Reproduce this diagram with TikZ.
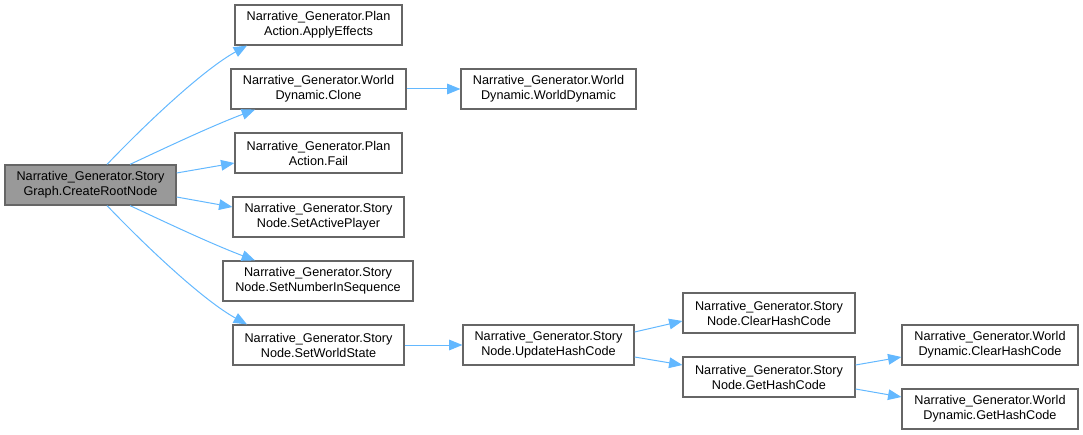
\documentclass[tikz,border=0pt]{standalone}
\usepackage{fontspec}
\setmainfont{Liberation Sans}
\usetikzlibrary{arrows.meta}
\definecolor{edgeblue}{HTML}{63B8FF}
\definecolor{boxborder}{HTML}{666666}
\definecolor{rootfill}{HTML}{999999}
\tikzset{
  fnbox/.style={draw=boxborder, line width=0.9pt, fill=white, inner sep=0pt,
    minimum height=30pt, align=center, font=\fontsize{9.5}{11.25}\selectfont},
  rootbox/.style={fnbox, fill=rootfill},
  call/.style={draw=edgeblue, line width=0.75pt, -{Triangle[length=10pt,width=8pt]}}
}
\begin{document}
\begin{tikzpicture}[x=0.75pt,y=-0.75pt]
\useasboundingbox (0,0) rectangle (1083,435);
\node[rootbox, minimum width=128.25pt] (root) at (90.5,185) {Narrative\_Generator.Story\\Graph.CreateRootNode};
\node[fnbox, minimum width=125.25pt] (ae) at (318.5,25) {Narrative\_Generator.Plan\\Action.ApplyEffects};
\node[fnbox, minimum width=131.25pt] (clone) at (318.5,89) {Narrative\_Generator.World\\Dynamic.Clone};
\node[fnbox, minimum width=125.25pt] (fail) at (318.5,153) {Narrative\_Generator.Plan\\Action.Fail};
\node[fnbox, minimum width=128.25pt] (sap) at (318.5,217) {Narrative\_Generator.Story\\Node.SetActivePlayer};
\node[fnbox, minimum width=142.5pt] (snis) at (318,281) {Narrative\_Generator.Story\\Node.SetNumberInSequence};
\node[fnbox, minimum width=128.25pt] (sws) at (318.5,345) {Narrative\_Generator.Story\\Node.SetWorldState};
\node[fnbox, minimum width=131.25pt] (wd) at (548.5,89) {Narrative\_Generator.World\\Dynamic.WorldDynamic};
\node[fnbox, minimum width=128.25pt] (uhc) at (548.5,345) {Narrative\_Generator.Story\\Node.UpdateHashCode};
\node[fnbox, minimum width=129pt] (snclear) at (769,313) {Narrative\_Generator.Story\\Node.ClearHashCode};
\node[fnbox, minimum width=129pt] (snget) at (769,377) {Narrative\_Generator.Story\\Node.GetHashCode};
\node[fnbox, minimum width=132pt] (wdclear) at (990,345) {Narrative\_Generator.World\\Dynamic.ClearHashCode};
\node[fnbox, minimum width=132pt] (wdget) at (990,409) {Narrative\_Generator.World\\Dynamic.GetHashCode};

\draw[call] ([xshift=12.4pt]root.north) .. controls +(43,-45) and +(-42,23) .. ([xshift=-53.6pt]ae.south);
\draw[call] ([xshift=29.6pt]root.north) .. controls +(30,-14) and +(-45,17) .. ([xshift=-47.6pt]clone.south);
\draw[call] ([yshift=9pt]root.east) -- ([yshift=-7.5pt]fail.west);
\draw[call] ([yshift=-9pt]root.east) -- ([yshift=7.5pt]sap.west);
\draw[call] ([xshift=29.6pt]root.south) .. controls +(30,14) and +(-45,-17) .. ([xshift=-47.25pt]snis.north);
\draw[call] ([xshift=12.4pt]root.south) .. controls +(43,45) and +(-42,-23) .. ([xshift=-53.6pt]sws.north);
\draw[call] (clone.east) -- (wd.west);
\draw[call] (sws.east) -- (uhc.west);
\draw[call] ([yshift=9.75pt]uhc.east) -- ([yshift=-6pt]snclear.west);
\draw[call] ([yshift=-9pt]uhc.east) -- ([yshift=9pt]snget.west);
\draw[call] ([yshift=9pt]snget.east) -- ([yshift=-9pt]wdclear.west);
\draw[call] ([yshift=-9pt]snget.east) -- ([yshift=9pt]wdget.west);
\end{tikzpicture}
\end{document}
